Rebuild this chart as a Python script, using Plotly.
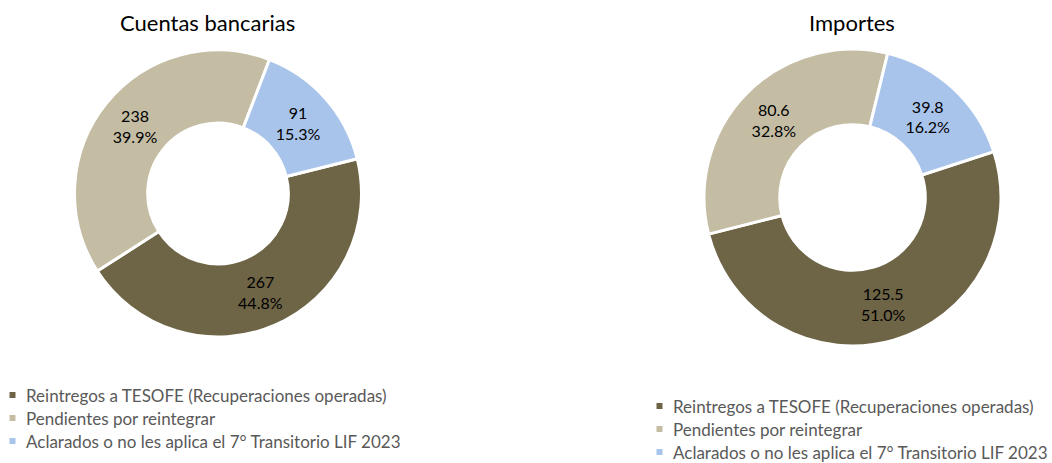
import plotly.graph_objects as go

W, H = 1052, 463

categories = [
    "Reintregos a TESOFE (Recuperaciones operadas)",
    "Pendientes por reintegrar",
    "Aclarados o no les aplica el 7° Transitorio LIF 2023",
]
cuentas_values = [267, 238, 91]
cuentas_pct = ["44.8%", "39.9%", "15.3%"]
importes_values = [125.5, 80.6, 39.8]
importes_pct = ["51.0%", "32.8%", "16.2%"]
colors = ["#6E6446", "#C4BDA4", "#A9C4EB"]
titles = ["Cuentas bancarias", "Importes"]

FONT = "Lato"

def px_dom(x0, x1, y0, y1):
    return dict(x=[x0 / W, x1 / W], y=[1 - y1 / H, 1 - y0 / H])

fig = go.Figure()
for vals, pct, dom, rot in [
    (cuentas_values, cuentas_pct, px_dom(74, 362, 50, 337), 76),
    (importes_values, importes_pct, px_dom(704, 1001, 49, 346), 72),
]:
    fig.add_trace(go.Pie(
        labels=categories, values=vals, customdata=pct,
        texttemplate="%{value}<br>%{customdata}", textposition="inside",
        insidetextorientation="horizontal",
        textfont=dict(family=FONT, size=16, color="#000000"),
        marker=dict(colors=colors, line=dict(color="white", width=3)),
        hole=0.49, sort=False, direction="clockwise", rotation=rot,
        domain=dom, showlegend=False, hoverinfo="label+value+percent",
    ))

annotations = [
    dict(text=titles[0], x=207 / W, y=1 - 22 / H),
    dict(text=titles[1], x=852 / W, y=1 - 22 / H),
]
for a in annotations:
    a.update(xref="paper", yref="paper", xanchor="center", yanchor="middle",
             showarrow=False, font=dict(family=FONT, size=22, color="#000000"))

shapes = []
# custom legends below each donut
for mx, tx, y0 in [(12.5, 24, 395), (659.5, 671, 406)]:
    for i, (cat, col) in enumerate(zip(categories, colors)):
        yy = y0 + i * 23
        shapes.append(dict(type="rect", xref="paper", yref="paper",
                           x0=(mx - 3) / W, x1=(mx + 3) / W,
                           y0=1 - (yy + 3) / H, y1=1 - (yy - 3) / H,
                           fillcolor=col, line=dict(width=0)))
        annotations.append(dict(text=cat, x=tx / W, y=1 - yy / H,
                                xref="paper", yref="paper", xanchor="left",
                                yanchor="middle", showarrow=False,
                                font=dict(family=FONT, size=17, color="#595959")))

fig.update_layout(
    width=W, height=H,
    margin=dict(l=0, r=0, t=0, b=0),
    paper_bgcolor="white", plot_bgcolor="white",
    showlegend=False,
    annotations=annotations,
    shapes=shapes,
)

fig.write_html("out.html")
